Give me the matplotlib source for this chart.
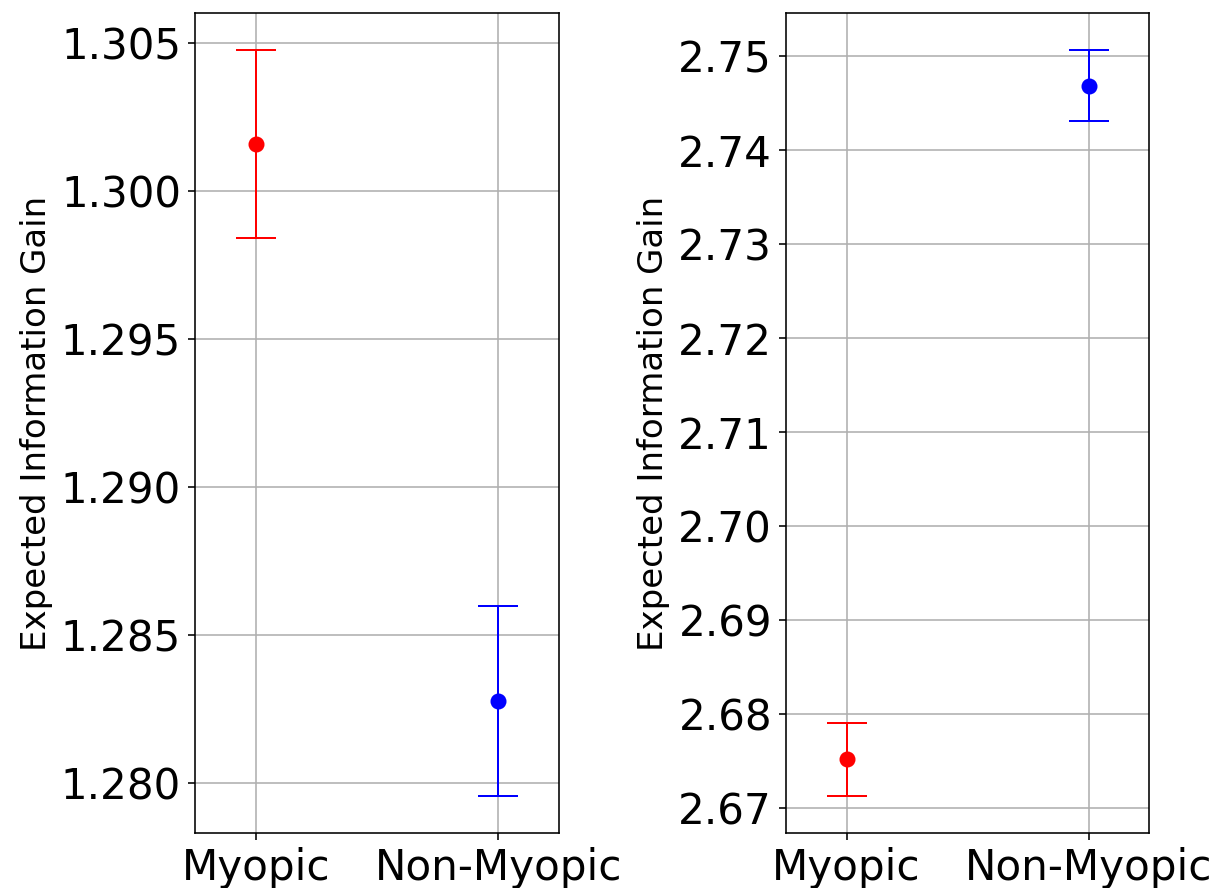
import matplotlib
matplotlib.use("Agg")
import matplotlib.pyplot as plt

categories = ["Myopic", "Non-Myopic"]
colors = ["red", "blue"]

# Left panel
left_means = [1.30158, 1.28277]
left_errs = [0.00318, 0.00320]

# Right panel
right_means = [2.67520, 2.74688]
right_errs = [0.00388, 0.00378]

DPI = 144
fig = plt.figure(figsize=(1219 / DPI, 888 / DPI), dpi=DPI)
W, H = 1219, 888
ax1 = fig.add_axes([195 / W, 55 / H, 364 / W, 820 / H])
ax2 = fig.add_axes([786 / W, 55 / H, 363 / W, 820 / H])

for ax, means, errs in [(ax1, left_means, left_errs), (ax2, right_means, right_errs)]:
    for i, (m, e, c) in enumerate(zip(means, errs, colors)):
        ax.errorbar(i, m, yerr=e, fmt="o", color=c, ecolor=c, capsize=10,
                    markersize=7, elinewidth=1, capthick=1)
    ax.set_xticks(range(len(categories)))
    ax.set_xticklabels(categories)
    ax.set_xlim(-0.25, 1.25)
    ax.grid(True)
    ax.set_axisbelow(True)
    ax.tick_params(axis="both", labelsize=21)
    ax.set_ylabel("Expected Information Gain", fontsize=17)

fig.savefig("out.png", dpi=DPI)
